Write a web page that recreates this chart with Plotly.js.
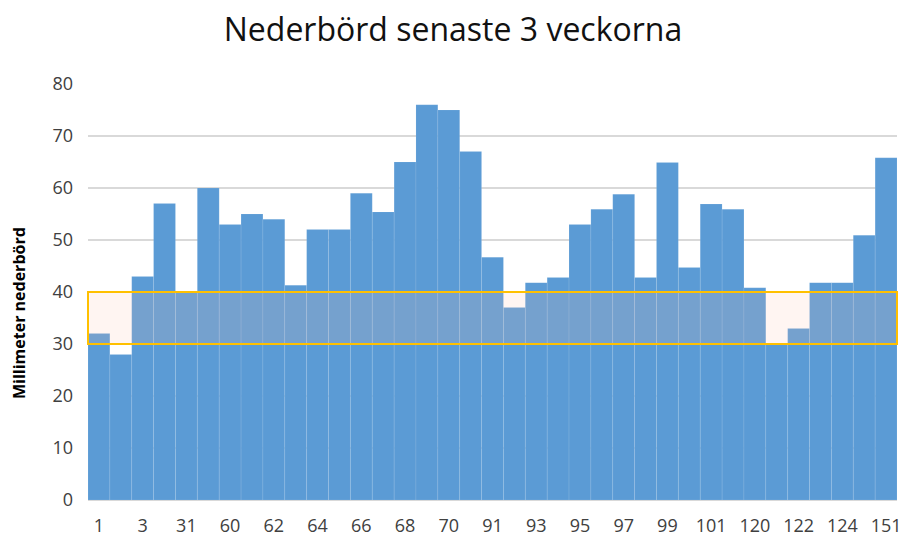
<!DOCTYPE html>
<html>
<head>
<meta charset="utf-8">
<script src="https://cdn.plot.ly/plotly-3.0.1.min.js"></script>
<style>html,body{margin:0;padding:0;background:#fff;}#chart{width:906px;height:541px;}</style>
</head>
<body>
<div id="chart"></div>
<script>
const categories = ["1","2","3","30","31","59","60","61","62","63","64","65","66","67","68","69","70","90","91","92","93","94","95","96","97","98","99","100","101","119","120","121","122","123","124","150","151"];
const precipitation = [32,28,43,57,40,60,53,55,54,41.3,52,52,59,55.4,65,76,75,67,46.7,37,41.8,42.8,53,55.9,58.8,42.8,64.9,44.7,56.9,55.9,40.8,30.2,33,41.8,41.8,50.9,65.8];
const shownTicks = ["1","3","31","60","62","64","66","68","70","91","93","95","97","99","101","120","122","124","151"];
const bandLow = 30;
const bandHigh = 40;
const yTicks = [0,10,20,30,40,50,60,70,80];

const trace = {
  type: "bar",
  x: categories,
  y: precipitation,
  marker: {color: "#5B9BD5", line: {color: "rgba(255,255,255,0.18)", width: 0.5}},
  hoverinfo: "x+y"
};

const layout = {
  width: 906, height: 541,
  margin: {l: 88, r: 9, t: 84, b: 41},
  paper_bgcolor: "#fff", plot_bgcolor: "#fff",
  bargap: 0,
  showlegend: false,
  font: {family: "Open Sans, sans-serif", color: "#404040"},
  title: {text: "Nederbörd senaste 3 veckorna", font: {family: "Open Sans, sans-serif", size: 32, color: "#111"}, x: 0.5, xanchor: "center", y: 0.945, yanchor: "middle"},
  xaxis: {
    type: "category",
    tickmode: "array", tickvals: shownTicks, ticktext: shownTicks,
    tickfont: {size: 18, color: "#404040"},
    showgrid: false, zeroline: false, showline: true, linecolor: "#D9D9D9", linewidth: 1,
    ticks: "", ticklabelstandoff: 9
  },
  yaxis: {
    range: [0, 80],
    tickvals: yTicks,
    tickfont: {size: 18, color: "#404040"},
    showgrid: true, gridcolor: "#D9D9D9", gridwidth: 1.3,
    zeroline: false, showline: false, ticks: "",
    ticklabelstandoff: 14
  },
  annotations: [{
    text: "<b>Millimeter nederbörd</b>",
    xref: "paper", x: -0.085, xanchor: "center",
    yref: "y", y: 36, yanchor: "middle",
    textangle: -90, showarrow: false,
    font: {family: "Open Sans, sans-serif", size: 16, color: "#000"}
  }],
  shapes: [{
    type: "rect", layer: "above",
    xref: "paper", x0: 0, x1: 1,
    yref: "y", y0: bandLow, y1: bandHigh,
    fillcolor: "rgba(255,192,176,0.16)",
    line: {color: "#FFC000", width: 2}
  }]
};

Plotly.newPlot("chart", [trace], layout, {displayModeBar: false, staticPlot: true});
</script>
</body>
</html>
